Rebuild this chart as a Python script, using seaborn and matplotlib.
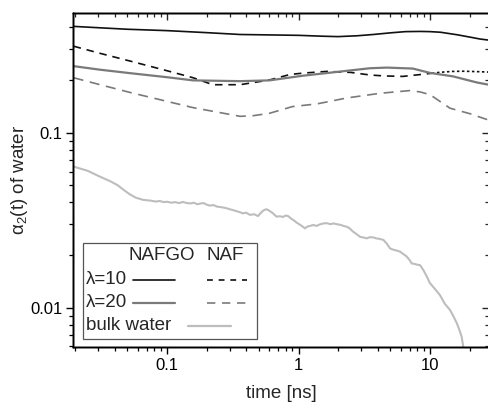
import numpy as np
import pandas as pd
import matplotlib
matplotlib.use("Agg")
import matplotlib.pyplot as plt
import seaborn as sns
from matplotlib.patches import Rectangle
from matplotlib.ticker import FixedLocator, NullFormatter, LogLocator

# ---------------- data ----------------
nafgo10_t = [0.0195, 0.03, 0.05, 0.1, 0.2, 0.36, 0.6, 1.0, 1.5, 2.0, 2.8, 3.7, 5.0, 6.5, 8.4, 10, 12, 16, 20, 24, 28]
nafgo10_v = [0.405, 0.398, 0.39, 0.383, 0.373, 0.364, 0.362, 0.36, 0.356, 0.354, 0.358, 0.364, 0.372, 0.378, 0.379, 0.378, 0.375, 0.363, 0.352, 0.343, 0.338]

naf10_t = [0.0195, 0.031, 0.052, 0.1, 0.158, 0.223, 0.36, 0.6, 0.86, 1.08, 1.65, 2.5, 3.5, 4.5, 6.2, 8.8, 11.3]
naf10_v = [0.312, 0.284, 0.257, 0.226, 0.206, 0.188, 0.188, 0.2, 0.215, 0.219, 0.224, 0.221, 0.2136, 0.211, 0.2097, 0.2156, 0.2204]

naf10_tail_t = [11.3, 13, 15, 18, 20, 24, 28]
naf10_tail_v = [0.2204, 0.2225, 0.224, 0.2245, 0.224, 0.223, 0.222]

nafgo20_t = [0.0195, 0.031, 0.052, 0.1, 0.158, 0.36, 0.6, 1.08, 1.96, 3.5, 4.7, 7.4, 10, 15, 22.8, 25, 28]
nafgo20_v = [0.24, 0.229, 0.219, 0.2075, 0.199, 0.197, 0.199, 0.2116, 0.2225, 0.2335, 0.2355, 0.2325, 0.2196, 0.2097, 0.1935, 0.191, 0.188]

naf20_t = [0.0195, 0.031, 0.052, 0.1, 0.158, 0.36, 0.45, 0.6, 0.9, 1.38, 2.34, 4.2, 7.0, 8.4, 10, 14.2, 20.4, 25, 28]
naf20_v = [0.206, 0.188, 0.170, 0.151, 0.139, 0.124, 0.125, 0.129, 0.141, 0.146, 0.158, 0.168, 0.174, 0.171, 0.165, 0.138, 0.128, 0.1214, 0.118]

bulk_t = [0.0195, 0.025, 0.031, 0.037, 0.042, 0.047, 0.052, 0.058, 0.066, 0.075, 0.082, 0.088, 0.095, 0.1,
          0.108, 0.115, 0.124, 0.132, 0.14, 0.15, 0.16, 0.17, 0.18, 0.19, 0.2, 0.212, 0.225, 0.24, 0.26,
          0.28, 0.301, 0.33, 0.355, 0.378, 0.40, 0.428, 0.46, 0.492, 0.528, 0.55, 0.573, 0.6, 0.62, 0.64,
          0.66, 0.683, 0.72, 0.762, 0.8, 0.832, 0.888, 0.93, 0.969, 1.04, 1.12, 1.17, 1.22, 1.3, 1.37,
          1.45, 1.55, 1.64, 1.75, 1.85, 1.95, 2.1, 2.2, 2.33, 2.45, 2.6, 2.75, 2.94, 3.1, 3.3, 3.5, 3.71,
          3.9, 4.15, 4.42, 4.7, 4.97, 5.3, 5.6, 5.92, 6.3, 6.65, 7.0, 7.26, 7.6, 8.0, 8.4, 8.9, 9.4, 10,
          10.9, 11.9, 13, 14.2, 15.1, 16.0, 16.8, 17.4, 17.9]
bulk_v = [0.064, 0.0605, 0.056, 0.0528, 0.0502, 0.047, 0.0445, 0.0425, 0.0413, 0.0409, 0.0404, 0.0407, 0.0401, 0.0403,
          0.0398, 0.0401, 0.0396, 0.0402, 0.0397, 0.0394, 0.0398, 0.0390, 0.0394, 0.0396, 0.0388, 0.0383, 0.0386, 0.0378, 0.0375,
          0.0371, 0.0365, 0.0358, 0.0352, 0.0346, 0.0349, 0.0339, 0.0342, 0.0334, 0.0354, 0.0362, 0.0365, 0.0358, 0.0352, 0.0346,
          0.0338, 0.0331, 0.0333, 0.0330, 0.0336, 0.0334, 0.0321, 0.0314, 0.0306, 0.0296, 0.0284, 0.0291, 0.0293, 0.0297, 0.0293,
          0.0299, 0.0303, 0.0304, 0.0300, 0.0303, 0.0300, 0.0297, 0.0293, 0.0290, 0.0284, 0.0272, 0.0264, 0.0254, 0.0252, 0.0249, 0.0253, 0.0252,
          0.0249, 0.0247, 0.0244, 0.0232, 0.0218, 0.0214, 0.0212, 0.0209, 0.0202, 0.0196, 0.0187, 0.0179, 0.0178, 0.0176, 0.0175, 0.0164, 0.0152, 0.0138,
          0.0128, 0.0118, 0.0105, 0.0097, 0.0089, 0.00815, 0.0074, 0.00683, 0.00598]

xtick_vals = [0.1, 1, 10]
xtick_labels = ["0.1", "1", "10"]
ytick_vals = [0.01, 0.1]
ytick_labels = ["0.01", "0.1"]

legend_cols = ["NAFGO", "NAF"]
legend_rows = ["λ=10", "λ=20", "bulk water"]

# ---------------- styling ----------------
sns.set_style("ticks")
plt.rcParams["font.family"] = ["Liberation Sans", "DejaVu Sans"]
plt.rcParams["mathtext.fontset"] = "custom"
plt.rcParams["mathtext.rm"] = "Liberation Sans"
plt.rcParams["mathtext.it"] = "Liberation Sans"

BLACK = "#111111"
GRAY = "#7a7a7a"
LIGHT = "#bdbdbd"

fig = plt.figure(figsize=(4.89, 4.05), dpi=100)
W, H = 489.0, 405.0
L, R, T, B = 73.5, 489.0, 13.0, 347.0
ax = fig.add_axes([L / W, 1 - B / H, (R - L) / W, (B - T) / H])

lw = 1.2
sns.lineplot(x=nafgo10_t, y=nafgo10_v, ax=ax, color=BLACK, lw=lw, estimator=None)
sns.lineplot(x=naf10_t, y=naf10_v, ax=ax, color=BLACK, lw=lw, estimator=None)
ax.lines[-1].set_dashes([4.5, 3.5])
sns.lineplot(x=naf10_tail_t, y=naf10_tail_v, ax=ax, color=BLACK, lw=lw, estimator=None)
ax.lines[-1].set_dashes([1.5, 1.5])
sns.lineplot(x=nafgo20_t, y=nafgo20_v, ax=ax, color=GRAY, lw=1.6, estimator=None)
sns.lineplot(x=naf20_t, y=naf20_v, ax=ax, color=GRAY, lw=lw, estimator=None)
ax.lines[-1].set_dashes([6, 4])
sns.lineplot(x=bulk_t, y=bulk_v, ax=ax, color=LIGHT, lw=1.5, estimator=None)

ax.set_xscale("log")
ax.set_yscale("log")
ax.set_xlim(0.01945, 28.1)
ax.set_ylim(0.00596, 0.483)

ax.xaxis.set_major_locator(FixedLocator(xtick_vals))
ax.set_xticklabels(xtick_labels)
ax.yaxis.set_major_locator(FixedLocator(ytick_vals))
ax.set_yticklabels(ytick_labels)
ax.xaxis.set_minor_locator(LogLocator(base=10, subs=np.arange(2, 10), numticks=20))
ax.yaxis.set_minor_locator(LogLocator(base=10, subs=np.arange(2, 10), numticks=20))
ax.xaxis.set_minor_formatter(NullFormatter())
ax.yaxis.set_minor_formatter(NullFormatter())

for s in ax.spines.values():
    s.set_linewidth(1.0)
    s.set_color("black")
ax.tick_params(which="major", direction="out", length=5, width=1.0, labelsize=12, colors="black", pad=3)
ax.tick_params(which="minor", direction="out", length=3, width=0.9, colors="black")

# top / right ticks pointing inwards
axt = ax.twiny()
axt.set_xscale("log")
axt.set_xlim(ax.get_xlim())
axt.xaxis.set_major_locator(FixedLocator(xtick_vals))
axt.xaxis.set_minor_locator(LogLocator(base=10, subs=np.arange(2, 10), numticks=20))
axt.tick_params(axis="x", which="major", direction="in", length=5, width=1.0, labeltop=False)
axt.tick_params(axis="x", which="minor", direction="in", length=3, width=0.9)
axt.xaxis.set_minor_formatter(NullFormatter())
axr = ax.twinx()
axr.set_yscale("log")
axr.set_ylim(ax.get_ylim())
axr.yaxis.set_major_locator(FixedLocator(ytick_vals))
axr.yaxis.set_minor_locator(LogLocator(base=10, subs=np.arange(2, 10), numticks=20))
axr.tick_params(axis="y", which="major", direction="in", length=5, width=1.0, labelright=False)
axr.tick_params(axis="y", which="minor", direction="in", length=3, width=0.9)
axr.yaxis.set_minor_formatter(NullFormatter())
for a in (axt, axr):
    for s in a.spines.values():
        s.set_linewidth(1.0)
        s.set_color("black")


def fx(px):
    return (px - L) / (R - L)


def fy(py):
    return (B - py) / (B - T)


ax.set_xlabel("time [ns]", fontsize=13.5)
ax.set_ylabel("α$_2$(t) of water", fontsize=13.5)
ax.xaxis.set_label_coords(0.5, fy(385))
ax.yaxis.set_label_coords(fx(30), 0.5)

# ---------------- custom table legend ----------------
tr = ax.transAxes
ax.add_patch(Rectangle((fx(83), fy(339)), fx(257) - fx(83), fy(243) - fy(339), transform=tr,
                       facecolor="white", edgecolor="#555555", lw=0.9, zorder=5))
ax.text(fx(161.5), fy(256), legend_cols[0], transform=tr, ha="center", va="center", fontsize=13.5, zorder=6)
ax.text(fx(225), fy(256), legend_cols[1], transform=tr, ha="center", va="center", fontsize=13.5, zorder=6)
row_y = [280, 302.5, 326]
for lab, yy in zip(legend_rows, row_y):
    ax.text(fx(86), fy(yy), lab, transform=tr, ha="left", va="center", fontsize=13.5, zorder=6)
ax.plot([fx(133), fx(175)], [fy(280)] * 2, transform=tr, color=BLACK, lw=lw, zorder=6)
ax.plot([fx(207), fx(247)], [fy(280)] * 2, transform=tr, color=BLACK, lw=lw, dashes=[3.5, 3.5], zorder=6)
ax.plot([fx(133), fx(175)], [fy(302.5)] * 2, transform=tr, color=GRAY, lw=1.6, zorder=6)
ax.plot([fx(207), fx(247)], [fy(302.5)] * 2, transform=tr, color=GRAY, lw=lw, dashes=[5, 4], zorder=6)
ax.plot([fx(188), fx(231)], [fy(326)] * 2, transform=tr, color=LIGHT, lw=1.6, zorder=6)

fig.savefig("out.png", dpi=100)
